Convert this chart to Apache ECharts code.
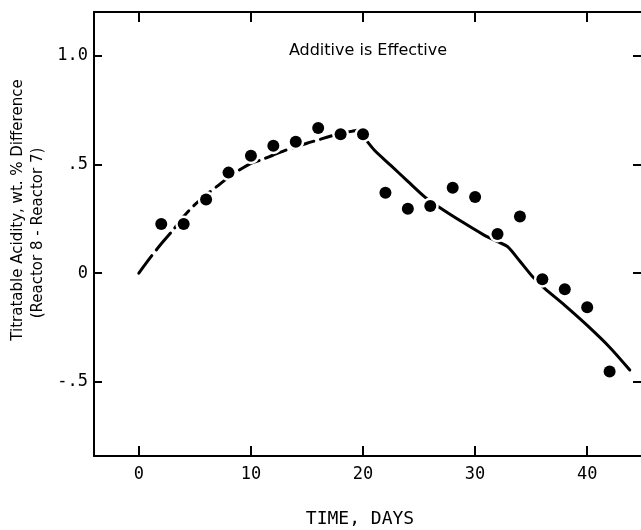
<!DOCTYPE html>
<html>
<head>
<meta charset="utf-8">
<script src="https://cdn.jsdelivr.net/npm/echarts@6/dist/echarts.min.js"></script>
<style>
html,body{margin:0;padding:0;background:#fff;}
#chart{width:641px;height:530px;}
</style>
</head>
<body>
<div id="chart"></div>
<script>
// Observed data points (days, wt. % difference)
var obsDays = [2, 4, 6, 8, 10, 12, 14, 16, 18, 20, 22, 24, 26, 28, 30, 32, 34, 36, 38, 40, 42];
var obsVals = [0.226, 0.226, 0.339, 0.462, 0.540, 0.586, 0.604, 0.667, 0.638, 0.638, 0.370, 0.296, 0.309, 0.393, 0.350, 0.180, 0.260, -0.028, -0.074, -0.157, -0.452];

// Fitted curve, dashed part
var fitDays1 = [0, 1, 2, 3, 4, 5, 6, 7, 8, 9, 10, 11, 12, 13, 14, 15, 16, 17, 18, 19, 19.6];
var fitVals1 = [0.0, 0.07, 0.135, 0.195, 0.26, 0.315, 0.36, 0.40, 0.44, 0.475, 0.505, 0.522, 0.543, 0.563, 0.58, 0.597, 0.612, 0.628, 0.642, 0.652, 0.658];

// Fitted curve, solid part
var fitDays2 = [19.6, 20.3, 21, 22.5, 24, 25.5, 26.8, 28.8, 30.8, 31.5, 32.2, 32.9, 34, 35.2, 36.2, 38, 40, 42, 43.8];
var fitVals2 = [0.658, 0.61, 0.566, 0.494, 0.422, 0.351, 0.303, 0.237, 0.175, 0.157, 0.14, 0.122, 0.055, -0.02, -0.07, -0.148, -0.24, -0.34, -0.445];

// Axis ticks and labels
var xTicks = [0, 10, 20, 30, 40];
var yTicks = [-0.5, 0, 0.5, 1.0];
var yTickLabels = {'-0.5': '-.5', '0': '0', '0.5': '.5', '1': '1.0'};

var titleText = 'Additive is Effective';
var xTitle = 'TIME, DAYS';
var yTitle1 = 'Titratable Acidity, wt. % Difference';
var yTitle2 = '(Reactor 8 - Reactor 7)';

function zip(a, b) { return a.map(function (v, i) { return [v, b[i]]; }); }

var chart = echarts.init(document.getElementById('chart'), null, {renderer: 'canvas'});

var axisLineStyle = {color: '#000', width: 2};
var tickStyle = {color: '#000', width: 2};
var tickFont = {fontFamily: 'DejaVu Sans Mono', fontSize: 17, color: '#000'};

function xAx(pos, showLabel) {
  return {
    type: 'value', min: -4, max: 44.8, position: pos,
    axisLine: {show: true, onZero: false, lineStyle: axisLineStyle},
    axisTick: {show: true, inside: true, length: 10, lineStyle: tickStyle, customValues: xTicks},
    axisLabel: showLabel ? Object.assign({show: true, margin: 10, customValues: xTicks}, tickFont) : {show: false},
    splitLine: {show: false}
  };
}
function yAx(pos, showLabel, showLine) {
  return {
    type: 'value', min: -0.84, max: 1.2, position: pos,
    axisLine: {show: showLine, onZero: false, lineStyle: axisLineStyle},
    axisTick: {show: true, inside: true, length: 8, lineStyle: tickStyle, customValues: yTicks},
    axisLabel: showLabel ? Object.assign({show: true, margin: 6, customValues: yTicks,
      formatter: function (v) { var k = String(Math.round(v * 10) / 10); return yTickLabels[k] !== undefined ? yTickLabels[k] : k; }}, tickFont) : {show: false},
    splitLine: {show: false}
  };
}

chart.setOption({
  animation: false,
  backgroundColor: '#fff',
  grid: {left: 94, top: 12, bottom: 74, right: 0},
  xAxis: [xAx('bottom', true), xAx('top', false)],
  yAxis: [yAx('left', true, true), yAx('right', false, false)],
  graphic: [
    {type: 'text', x: 368, y: 51, style: {text: titleText, font: '16px "DejaVu Sans"', fill: '#000', textAlign: 'center', textVerticalAlign: 'middle'}},
    {type: 'text', x: 360, y: 519, style: {text: xTitle, font: '18px "DejaVu Sans Mono"', fill: '#000', textAlign: 'center', textVerticalAlign: 'middle'}},
    {type: 'text', x: 18, y: 210, rotation: Math.PI / 2, style: {text: yTitle1, font: '15px "DejaVu Sans"', fill: '#000', textAlign: 'center', textVerticalAlign: 'middle'}},
    {type: 'text', x: 38, y: 233, rotation: Math.PI / 2, style: {text: yTitle2, font: '15px "DejaVu Sans"', fill: '#000', textAlign: 'center', textVerticalAlign: 'middle'}}
  ],
  series: [{
    type: 'line', data: zip(fitDays1, fitVals1), symbol: 'none', smooth: 0.3, z: 2,
    lineStyle: {color: '#000', width: 3, type: [22, 7], cap: 'round'}
  }, {
    type: 'line', data: zip(fitDays2, fitVals2), symbol: 'none', smooth: 0.3, z: 2,
    lineStyle: {color: '#000', width: 3, cap: 'round'}
  }, {
    type: 'scatter', data: zip(obsDays, obsVals), symbol: 'circle', symbolSize: 17, z: 3,
    itemStyle: {color: '#fff', opacity: 1}, silent: true
  }, {
    type: 'scatter', data: zip(obsDays, obsVals), symbol: 'circle', symbolSize: 12, z: 4,
    itemStyle: {color: '#000', opacity: 1}
  }]
});
</script>
</body>
</html>
